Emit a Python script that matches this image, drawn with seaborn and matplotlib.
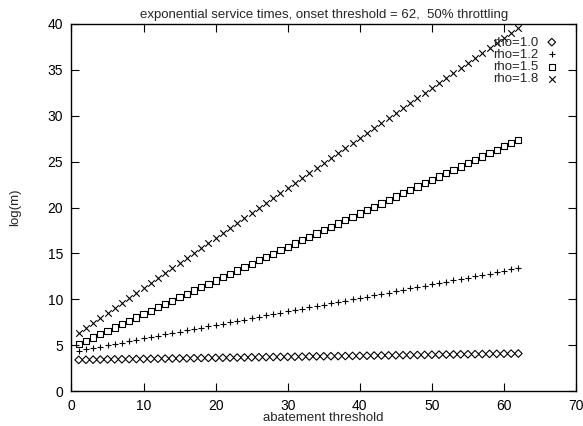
import numpy as np
import pandas as pd
import matplotlib
matplotlib.use("Agg")
import matplotlib.pyplot as plt
import seaborn as sns

# abatement thresholds 1..62
threshold = list(range(1, 63))

rho_10 = [3.40, 3.41, 3.42, 3.43, 3.45, 3.46, 3.47, 3.48, 3.49, 3.50,
          3.52, 3.53, 3.54, 3.55, 3.56, 3.57, 3.58, 3.60, 3.61, 3.62,
          3.63, 3.64, 3.65, 3.66, 3.68, 3.69, 3.70, 3.71, 3.72, 3.73,
          3.74, 3.75, 3.77, 3.78, 3.79, 3.80, 3.81, 3.82, 3.83, 3.84,
          3.85, 3.87, 3.88, 3.89, 3.90, 3.91, 3.92, 3.93, 3.94, 3.96,
          3.97, 3.98, 3.99, 4.00, 4.01, 4.02, 4.03, 4.05, 4.06, 4.07,
          4.08, 4.09]

rho_12 = [4.40, 4.55, 4.70, 4.84, 4.99, 5.14, 5.29, 5.43, 5.58, 5.73,
          5.88, 6.02, 6.17, 6.32, 6.47, 6.61, 6.76, 6.91, 7.06, 7.20,
          7.35, 7.50, 7.65, 7.79, 7.94, 8.09, 8.24, 8.38, 8.53, 8.68,
          8.83, 8.97, 9.12, 9.27, 9.42, 9.56, 9.71, 9.86, 10.01, 10.15,
          10.30, 10.45, 10.60, 10.74, 10.89, 11.04, 11.19, 11.33, 11.48, 11.63,
          11.78, 11.92, 12.07, 12.22, 12.37, 12.51, 12.66, 12.81, 12.96, 13.10,
          13.25, 13.40]

rho_15 = [5.10, 5.47, 5.83, 6.20, 6.56, 6.93, 7.29, 7.66, 8.02, 8.39,
          8.76, 9.12, 9.49, 9.85, 10.22, 10.58, 10.95, 11.31, 11.68, 12.05,
          12.41, 12.78, 13.14, 13.51, 13.87, 14.24, 14.61, 14.97, 15.34, 15.70,
          16.07, 16.43, 16.80, 17.16, 17.53, 17.90, 18.26, 18.63, 18.99, 19.36,
          19.72, 20.09, 20.45, 20.82, 21.19, 21.55, 21.92, 22.28, 22.65, 23.01,
          23.38, 23.74, 24.11, 24.48, 24.84, 25.21, 25.57, 25.94, 26.30, 26.67,
          27.03, 27.40]

rho_18 = [6.30, 6.85, 7.39, 7.94, 8.48, 9.03, 9.58, 10.12, 10.67, 11.21,
          11.76, 12.31, 12.85, 13.40, 13.94, 14.49, 15.03, 15.58, 16.13, 16.67,
          17.22, 17.76, 18.31, 18.86, 19.40, 19.95, 20.49, 21.04, 21.59, 22.13,
          22.68, 23.22, 23.77, 24.32, 24.86, 25.41, 25.95, 26.50, 27.05, 27.59,
          28.14, 28.68, 29.23, 29.78, 30.32, 30.87, 31.41, 31.96, 32.51, 33.05,
          33.60, 34.14, 34.69, 35.24, 35.78, 36.33, 36.87, 37.42, 37.97, 38.51,
          39.05, 39.60]

labels = ["rho=1.0", "rho=1.2", "rho=1.5", "rho=1.8"]
markers = ["D", "+", "s", "x"]

sns.set_style("ticks")
plt.rcParams["font.family"] = ["Liberation Sans", "DejaVu Sans"]

fig = plt.figure(figsize=(5.83, 4.26), dpi=100)
ax = fig.add_axes([0.1226, 0.082, 0.8654, 0.8617])

df = pd.DataFrame({"threshold": threshold, "rho=1.0": rho_10, "rho=1.2": rho_12,
                   "rho=1.5": rho_15, "rho=1.8": rho_18})

for lab, mk in zip(labels, markers):
    if mk in ("D", "s"):
        sns.scatterplot(data=df, x="threshold", y=lab, marker=mk, s=15 if mk == "D" else 20,
                        facecolors="none", edgecolor="black", linewidth=0.8, label=lab, ax=ax)
    else:
        sns.scatterplot(data=df, x="threshold", y=lab, marker=mk, s=22,
                        color="black", linewidth=0.8, label=lab, ax=ax)

ax.set_xlim(0, 70)
ax.set_ylim(0, 40)
ax.set_xticks(range(0, 71, 10))
ax.set_yticks(range(0, 41, 5))
ax.tick_params(direction="in", length=6, width=0.8, top=True, right=True,
               labelsize=10, pad=6, colors="black")
for sp in ax.spines.values():
    sp.set_linewidth(1.0)
    sp.set_color("black")

ax.set_xlabel("abatement threshold", fontsize=9.5, labelpad=-1)
ax.set_ylabel("log(m)", fontsize=9.5, labelpad=19)
ax.set_title("exponential service times, onset threshold = 62,  50% throttling",
             fontsize=9.5, pad=4)

leg = ax.legend(loc="upper right", bbox_to_anchor=(0.986, 0.995), frameon=False,
                markerfirst=False, fontsize=9.5, labelspacing=0.0, handletextpad=0.55,
                borderaxespad=0.4, handlelength=1.0)
for t in leg.get_texts():
    t.set_ha("right")

fig.savefig("out.png", dpi=100)
